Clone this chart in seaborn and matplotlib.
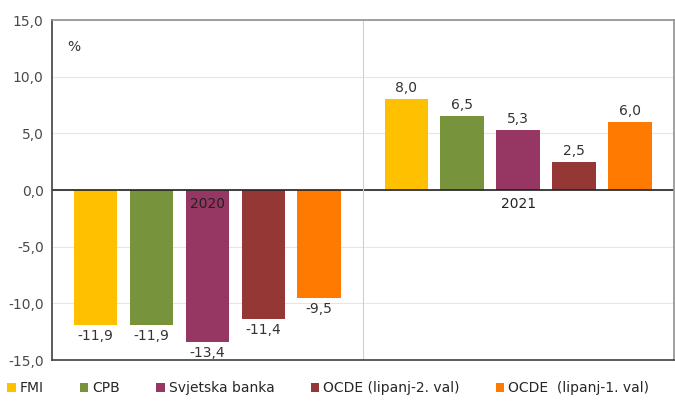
import pandas as pd
import matplotlib.pyplot as plt
import seaborn as sns

# podaci s grafa
years = ['2020', '2021']
sources = ['FMI', 'CPB', 'Svjetska banka', 'OCDE (lipanj-2. val)', 'OCDE  (lipanj-1. val)']
val_2020 = [-11.9, -11.9, -13.4, -11.4, -9.5]
val_2021 = [8.0, 6.5, 5.3, 2.5, 6.0]
colors = ['#FFC000', '#77933C', '#953762', '#953735', '#FF7A00']

rows = []
for s, a, b in zip(sources, val_2020, val_2021):
    rows.append({'godina': '2020', 'izvor': s, 'vrijednost': a})
    rows.append({'godina': '2021', 'izvor': s, 'vrijednost': b})
df = pd.DataFrame(rows)

sns.set_style('white')
plt.rcParams['font.family'] = ['DejaVu Sans']

fig = plt.figure(figsize=(6.75, 4.01), dpi=100)
ax = fig.add_axes([0.077, 0.102, 0.921, 0.848])

sns.barplot(data=df, x='godina', y='vrijednost', hue='izvor', order=years,
            hue_order=sources, palette=colors, width=0.9, gap=0.22,
            saturation=1, linewidth=0, ax=ax, legend=True)

ax.set_ylim(-15, 15)
ax.set_xlim(-0.5, 1.5)
ax.set_yticks(range(-15, 16, 5))
ax.set_yticklabels([f'{v:.1f}'.replace('.', ',') for v in range(-15, 16, 5)],
                   fontsize=10, color='#4a4a4a')
ax.tick_params(axis='y', length=0, pad=6)
ax.set_xticks([])
ax.set_xlabel('')
ax.set_ylabel('')
ax.yaxis.grid(True, color='#e6e6e6', linewidth=0.8)
ax.set_axisbelow(True)
ax.axhline(0, color='#222222', linewidth=1.2)
ax.axvline(0.5, color='#d0d0d0', linewidth=0.8)

for sp in ['top', 'right']:
    ax.spines[sp].set_color('#909090')
for sp in ['left', 'bottom']:
    ax.spines[sp].set_color('#404040')
for sp in ax.spines.values():
    sp.set_linewidth(1.2)

# oznake vrijednosti
for cont in ax.containers:
    labels = [f'{v:.1f}'.replace('.', ',') for v in cont.datavalues]
    ax.bar_label(cont, labels=labels, padding=3, fontsize=10, color='#333333')

for i, y in enumerate(years):
    ax.text(i, -0.6, y, ha='center', va='top', fontsize=10, color='#222222')
ax.text(-0.45, 12.6, '%', fontsize=10, color='#333333', va='center')

ax.legend(loc='upper left', bbox_to_anchor=(-0.072, -0.062), ncol=5,
          frameon=False, fontsize=10, handlelength=0.6, handleheight=0.6,
          columnspacing=2.6, handletextpad=0.3, borderaxespad=0, borderpad=0)

fig.savefig('out.png', dpi=100)
